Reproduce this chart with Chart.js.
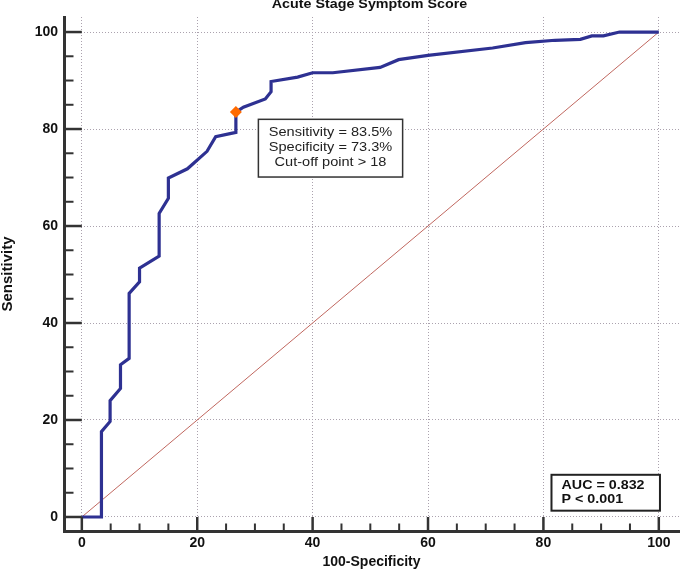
<!DOCTYPE html>
<html><head><meta charset="utf-8">
<script src="https://cdn.jsdelivr.net/npm/chart.js@4"></script>
<style>html,body{margin:0;padding:0;background:#fff;}#wrap{width:685px;height:571px;position:relative;}</style>
</head><body><div id="wrap"><canvas id="c" width="685" height="571"></canvas></div>
<script>
const chartTitle = 'Acute Stage Symptom Score';
const xTitle = '100-Specificity';
const yTitle = 'Sensitivity';
const xTickValues = [0, 20, 40, 60, 80, 100];
const yTickValues = [0, 20, 40, 60, 80, 100];
const minorStep = 5;
const rocX = [0, 3.4, 3.4, 4.9, 4.9, 6.7, 6.7, 8.2, 8.2, 10.0, 10.0, 13.4, 13.4, 15.0, 15.0, 18.3, 21.7, 23.2, 26.7, 26.7, 28.0, 31.8, 32.8, 32.8, 37.4, 40.0, 43.5, 51.7, 54.9, 60.0, 71.2, 76.9, 82.0, 86.4, 88.4, 90.4, 93.2, 100];
const rocY = [0, 0, 17.6, 19.7, 24.0, 26.5, 31.4, 32.7, 46.1, 48.5, 51.3, 53.8, 62.6, 65.7, 69.9, 71.8, 75.4, 78.4, 79.3, 83.5, 84.5, 86.2, 87.7, 89.8, 90.7, 91.6, 91.6, 92.7, 94.3, 95.2, 96.7, 97.8, 98.3, 98.5, 99.2, 99.2, 100, 100];
const diagX = [0, 100];
const diagY = [0, 100];
const cutoffX = [26.7];
const cutoffY = [83.5];
const cutoffLabels = ['Sensitivity = 83.5%', 'Specificity = 73.3%', 'Cut-off point > 18'];
const aucLabels = ['AUC = 0.832', 'P < 0.001'];

const FONT = '"Liberation Sans", Arial, Helvetica, sans-serif';
const toPts = (xs, ys) => xs.map((x, i) => ({x: x, y: ys[i]}));

function scaledText(ctx, text, x, y, align, sx) {
  ctx.save();
  ctx.translate(x, y);
  ctx.scale(sx, 1);
  ctx.textAlign = align;
  ctx.fillText(text, 0, 0);
  ctx.restore();
}

const decor = {
  id: 'decor',
  afterDraw(chart) {
    const ctx = chart.ctx;
    const xs = chart.scales.x, ys = chart.scales.y;
    const ca = chart.chartArea;
    const axisX = 64.5, axisY = 531.5;
    ctx.save();
    ctx.setLineDash([]);
    ctx.strokeStyle = '#333';
    for (let v = 0; v <= 100; v += minorStep) {
      const major = yTickValues.includes(v);
      const py = ys.getPixelForValue(v);
      ctx.lineWidth = major ? 2.5 : 2;
      ctx.beginPath();
      ctx.moveTo(axisX, py);
      ctx.lineTo(major ? xs.getPixelForValue(0) : axisX + 9, py);
      ctx.stroke();
    }
    for (let v = 0; v <= 100; v += minorStep) {
      const major = xTickValues.includes(v);
      const px = xs.getPixelForValue(v);
      ctx.lineWidth = major ? 2.5 : 2;
      ctx.beginPath();
      ctx.moveTo(px, axisY);
      ctx.lineTo(px, major ? ys.getPixelForValue(0) : axisY - 8);
      ctx.stroke();
    }
    ctx.fillStyle = '#111';
    ctx.font = 'bold 13px ' + FONT;
    ctx.textBaseline = 'alphabetic';
    scaledText(ctx, chartTitle, (ca.left + ca.right) / 2 - 2, 8, 'center', 1.1);

    let l = xs.getPixelForValue(30.6), r = xs.getPixelForValue(55.6);
    let t = ys.getPixelForValue(82.0), b = ys.getPixelForValue(70.1);
    ctx.fillStyle = '#fff';
    ctx.fillRect(l, t, r - l, b - t);
    ctx.lineWidth = 1.5;
    ctx.strokeStyle = '#333';
    ctx.strokeRect(l, t, r - l, b - t);
    ctx.fillStyle = '#222';
    ctx.font = '13px ' + FONT;
    ctx.textBaseline = 'middle';
    const cx = (l + r) / 2;
    cutoffLabels.forEach((s, i) => scaledText(ctx, s, cx, t + 13.5 + i * 14.6, 'center', 1.12));

    l = xs.getPixelForValue(81.4); r = xs.getPixelForValue(100.2);
    t = ys.getPixelForValue(8.7); b = ys.getPixelForValue(1.3);
    ctx.fillStyle = '#fff';
    ctx.fillRect(l, t, r - l, b - t);
    ctx.lineWidth = 2;
    ctx.strokeStyle = '#222';
    ctx.strokeRect(l, t, r - l, b - t);
    ctx.fillStyle = '#111';
    ctx.font = 'bold 13px ' + FONT;
    aucLabels.forEach((s, i) => scaledText(ctx, s, l + 10, t + 10.5 + i * 14, 'left', 1.1));
    ctx.restore();
  }
};

new Chart(document.getElementById('c'), {
  type: 'scatter',
  data: {
    datasets: [
      {
        data: toPts(cutoffX, cutoffY),
        pointStyle: 'rectRot', pointRadius: 6,
        backgroundColor: '#FF6A00', borderColor: '#FF6A00', borderWidth: 0,
        showLine: false, order: 0
      },
      {
        data: toPts(rocX, rocY),
        showLine: true, borderColor: '#2E3192', borderWidth: 3.2,
        pointRadius: 0, tension: 0, fill: false, order: 1,
        borderJoinStyle: 'miter'
      },
      {
        data: toPts(diagX, diagY),
        showLine: true, borderColor: '#C0675F', borderWidth: 1,
        pointRadius: 0, tension: 0, fill: false, order: 2
      }
    ]
  },
  options: {
    responsive: false,
    animation: false,
    devicePixelRatio: 1,
    layout: {padding: {top: 17, right: 0, left: 0, bottom: 0}},
    plugins: {legend: {display: false}, tooltip: {enabled: false}},
    scales: {
      x: {
        type: 'linear', min: -3.09, max: 103.5,
        afterBuildTicks: s => { s.ticks = xTickValues.map(v => ({value: v})); },
        afterFit: s => { s.height = 40; },
        grid: {color: '#ABA2AE', lineWidth: 1, drawTicks: false},
        border: {display: true, width: 3, color: '#333', dash: [1, 2]},
        ticks: {padding: 4, color: '#111', font: {family: FONT, size: 14, weight: 'bold'}, maxRotation: 0},
        title: {display: true, text: xTitle, color: '#111', padding: {top: 0, bottom: 0}, font: {family: FONT, size: 14, weight: 'bold'}}
      },
      y: {
        type: 'linear', min: -2.89, max: 103.1,
        afterBuildTicks: s => { s.ticks = yTickValues.map(v => ({value: v})); },
        afterFit: s => { s.width = 64; },
        grid: {color: '#ABA2AE', lineWidth: 1, drawTicks: false},
        border: {display: true, width: 3, color: '#333', dash: [1, 2]},
        ticks: {padding: 6, color: '#111', font: {family: FONT, size: 14, weight: 'bold'}},
        title: {display: true, text: yTitle, color: '#111', padding: {top: 0, bottom: 0}, font: {family: FONT, size: 15, weight: 'bold', lineHeight: 1}}
      }
    }
  },
  plugins: [decor]
});
</script>
</body></html>
